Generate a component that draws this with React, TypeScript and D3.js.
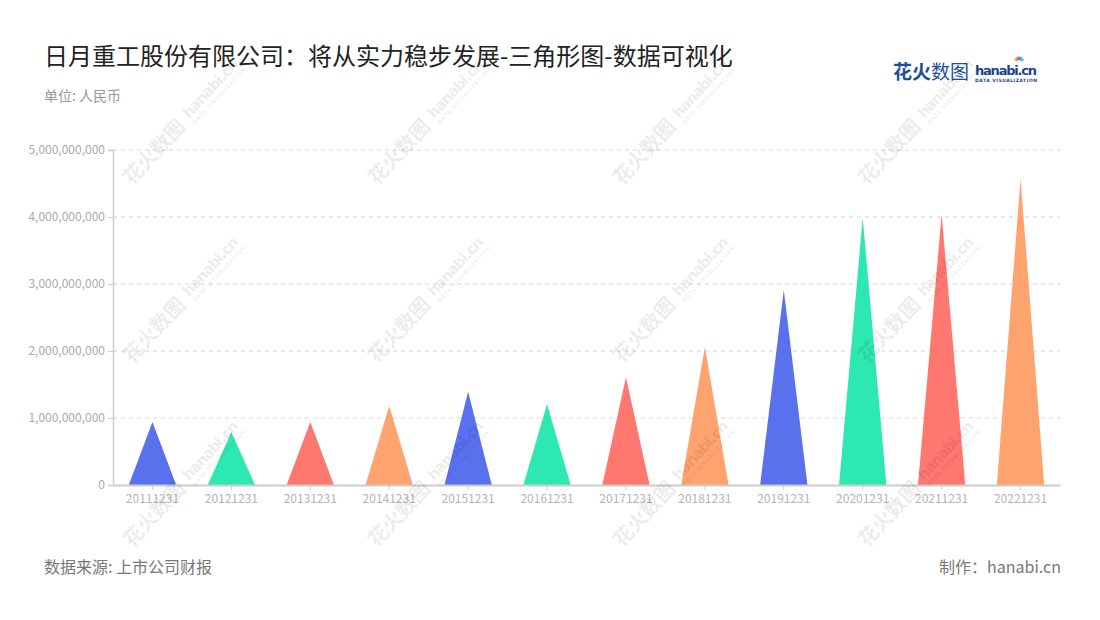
import { useEffect, useRef } from 'react';
import * as d3 from 'd3';

const title = '日月重工股份有限公司：将从实力稳步发展-三角形图-数据可视化';
const unitLabel = '单位: 人民币';
const sourceLabel = '数据来源: 上市公司财报';
const makerLabel = '制作：hanabi.cn';

const categories = [
  '20111231', '20121231', '20131231', '20141231', '20151231', '20161231',
  '20171231', '20181231', '20191231', '20201231', '20211231', '20221231',
];
const values = [
  0.94e9, 0.79e9, 0.94e9, 1.18e9, 1.39e9, 1.21e9,
  1.61e9, 2.06e9, 2.91e9, 3.99e9, 4.04e9, 4.57e9,
];
const yTicks = [0, 1e9, 2e9, 3e9, 4e9, 5e9];
const palette = ['#5a71ee', '#2ee8b1', '#ff7870', '#ffa36f'];

const FONT = '"Noto Sans CJK SC", "Noto Sans", sans-serif';

export default function App() {
  const svgRef = useRef<SVGSVGElement>(null);
  const width = 1100;
  const height = 620;

  useEffect(() => {
    if (!svgRef.current) return;
    const svg = d3.select(svgRef.current);
    svg.selectAll('*').remove();

    const margin = { top: 150, right: 40, bottom: 135, left: 113 };
    const innerWidth = width - margin.left - margin.right;
    const innerHeight = height - margin.top - margin.bottom;

    svg.append('rect').attr('width', width).attr('height', height).attr('fill', '#fff');

    // Title and notes
    svg.append('text')
      .attr('x', 44).attr('y', 65)
      .style('font-family', FONT).style('font-size', '24px')
      .attr('fill', '#222')
      .text(title);

    svg.append('text')
      .attr('x', 44).attr('y', 101)
      .style('font-family', FONT).style('font-size', '14px')
      .attr('fill', '#999')
      .text(unitLabel);

    svg.append('text')
      .attr('x', 44).attr('y', 573)
      .style('font-family', FONT).style('font-size', '16px')
      .attr('fill', '#777')
      .text(sourceLabel);

    svg.append('text')
      .attr('x', 1061).attr('y', 573)
      .attr('text-anchor', 'end')
      .style('font-family', FONT).style('font-size', '16px')
      .attr('fill', '#777')
      .text(makerLabel);

    // Logo
    const logo = svg.append('g').attr('transform', 'translate(893,79)');
    logo.append('text')
      .style('font-family', FONT).style('font-size', '19px').style('font-weight', 700)
      .attr('fill', '#1d4f9e')
      .text('花火');
    logo.append('text')
      .attr('x', 38)
      .style('font-family', FONT).style('font-size', '19px')
      .attr('fill', '#1d4f9e')
      .text('数图');
    logo.append('text')
      .attr('x', 82).attr('y', -4)
      .style('font-family', '"DejaVu Sans", sans-serif').style('font-size', '13px').style('font-weight', 700)
      .attr('fill', '#1d3f8f')
      .attr('textLength', 62)
      .text('hanabi.cn');
    logo.append('text')
      .attr('x', 82).attr('y', 3)
      .style('font-family', '"DejaVu Sans", sans-serif').style('font-size', '4.5px').style('font-weight', 700)
      .attr('fill', '#1d3f8f')
      .attr('textLength', 62)
      .text('DATA VISUALIZATION');
    const rays = ['#f5c51e', '#ff6d5a', '#e54bb0', '#7c5bf0', '#2fa6f5', '#2ee8b1'];
    rays.forEach((c, i) => {
      const a = (-150 + i * 24) * Math.PI / 180;
      logo.append('line')
        .attr('x1', 126 + Math.cos(a) * 2).attr('y1', -17 + Math.sin(a) * 2)
        .attr('x2', 126 + Math.cos(a) * 5.5).attr('y2', -17 + Math.sin(a) * 5.5)
        .attr('stroke', c).attr('stroke-width', 1.6);
    });

    const g = svg.append('g')
      .attr('transform', `translate(${margin.left},${margin.top})`);

    const x = d3.scaleBand().domain(categories).range([0, innerWidth]);
    const y = d3.scaleLinear().domain([0, 5e9]).range([innerHeight, 0]);

    // Grid
    g.selectAll('.grid')
      .data(yTicks.filter(t => t > 0))
      .enter().append('line')
      .attr('x1', 0).attr('x2', innerWidth)
      .attr('y1', d => y(d)).attr('y2', d => y(d))
      .attr('stroke', '#e3e3e3')
      .attr('stroke-width', 1.5)
      .attr('stroke-dasharray', '4 4');

    // Triangles
    const barW = x.bandwidth() * 0.6;
    g.selectAll('.tri')
      .data(values)
      .enter().append('path')
      .attr('d', (d, i) => {
        const cx = (x(categories[i]) || 0) + x.bandwidth() / 2;
        const p = d3.path();
        p.moveTo(cx - barW / 2, y(0));
        p.lineTo(cx, y(d));
        p.lineTo(cx + barW / 2, y(0));
        p.closePath();
        return p.toString();
      })
      .attr('fill', (_, i) => palette[i % palette.length]);

    // Y axis
    const yAxis = g.append('g')
      .call(d3.axisLeft(y).tickValues(yTicks).tickFormat(d3.format(',') as any).tickSize(5).tickPadding(3));
    yAxis.select('.domain').attr('stroke', '#ccc').attr('stroke-width', 1.5);
    yAxis.selectAll('.tick line').attr('stroke', '#ccc');
    yAxis.selectAll('text')
      .style('font-family', FONT).style('font-size', '12px')
      .attr('fill', '#aaa');

    // X axis
    const xAxis = g.append('g')
      .attr('transform', `translate(0,${innerHeight})`)
      .call(d3.axisBottom(x).tickSize(5).tickPadding(4).tickSizeOuter(0));
    xAxis.select('.domain').attr('stroke', '#ccc').attr('stroke-width', 2);
    xAxis.selectAll('.tick line').attr('stroke', '#ccc');
    xAxis.selectAll('text')
      .style('font-family', FONT).style('font-size', '12px')
      .attr('fill', '#b0b3c0');

    // Watermarks
    const wmCols = [132, 377, 622, 867];
    const wmRows = [186, 364, 548];
    const wm = svg.append('g').attr('opacity', 0.075).attr('pointer-events', 'none');
    wmRows.forEach(ry => {
      wmCols.forEach(cx => {
        const m = wm.append('g').attr('transform', `translate(${cx},${ry}) rotate(-47)`);
        m.append('text')
          .style('font-family', FONT).style('font-size', '20px').style('font-weight', 700)
          .attr('fill', '#000')
          .text('花火数图');
        m.append('text')
          .attr('x', 88).attr('y', -4)
          .style('font-family', '"DejaVu Sans", sans-serif').style('font-size', '15px').style('font-weight', 700)
          .attr('fill', '#000')
          .attr('textLength', 74)
          .text('hanabi.cn');
        m.append('text')
          .attr('x', 88).attr('y', 4)
          .style('font-family', '"DejaVu Sans", sans-serif').style('font-size', '5px').style('font-weight', 700)
          .attr('fill', '#000')
          .attr('textLength', 74)
          .text('DATA VISUALIZATION');
      });
    });
  }, []);

  return (
    <svg
      ref={svgRef}
      width={width}
      height={height}
      style={{ position: 'absolute', left: 0, top: 0, display: 'block' }}
    />
  );
}
